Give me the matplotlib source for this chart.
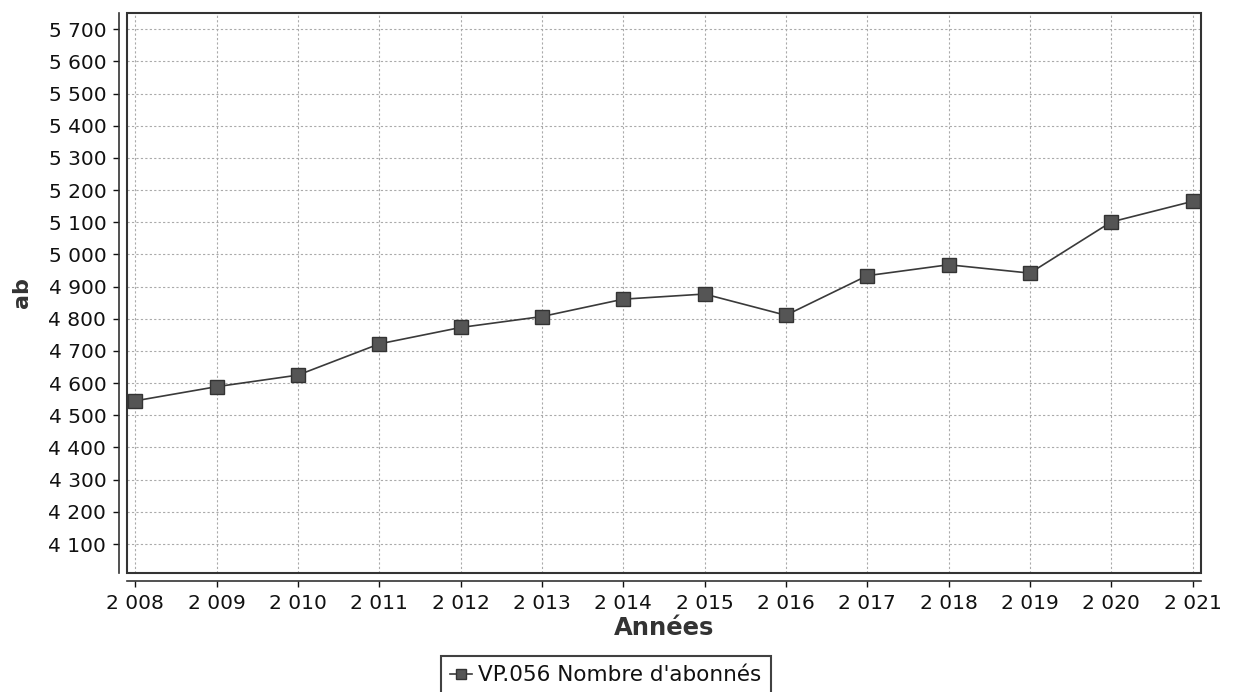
import matplotlib
matplotlib.use("Agg")
import matplotlib.pyplot as plt
from matplotlib.patches import Rectangle
from matplotlib.ticker import FuncFormatter

years = [2008, 2009, 2010, 2011, 2012, 2013, 2014, 2015, 2016, 2017, 2018, 2019, 2020, 2021]
abonnes = [4545, 4589, 4625, 4722, 4773, 4807, 4861, 4877, 4811, 4934, 4968, 4942, 5101, 5165]
y_ticks = [4100, 4200, 4300, 4400, 4500, 4600, 4700, 4800, 4900, 5000, 5100, 5200, 5300, 5400, 5500, 5600, 5700]
series_label = "VP.056 Nombre d'abonnés"

def fmt(v, pos=None):
    return "{:,}".format(int(round(v))).replace(",", " ")

fig = plt.figure(figsize=(12.34, 6.92), dpi=100)
ax = fig.add_axes([0.103, 0.172, 0.870, 0.809])

ax.plot(years, abonnes, color="#3a3a3a", linewidth=1.2, marker="s", markersize=9.5,
        markerfacecolor="#555555", markeredgecolor="#333333", markeredgewidth=1,
        label=series_label, zorder=3)

ax.set_xlim(2007.9, 2021.1)
ax.set_ylim(4010, 5750)
ax.set_xticks(years)
ax.set_yticks(y_ticks)
ax.xaxis.set_major_formatter(FuncFormatter(fmt))
ax.yaxis.set_major_formatter(FuncFormatter(fmt))
ax.tick_params(axis="both", labelsize=14.5, colors="#111111", length=4, width=1)
ax.tick_params(axis="x", pad=5)
ax.tick_params(axis="y", pad=5)

ax.grid(True, color="#aaaaaa", linestyle=(0, (2, 2)), linewidth=0.8)

for s in ["top", "right"]:
    ax.spines[s].set_visible(False)
for s in ["left", "bottom"]:
    ax.spines[s].set_position(("outward", 6))
    ax.spines[s].set_color("#333333")
    ax.spines[s].set_linewidth(1.2)

ax.add_patch(Rectangle((0, 0), 1, 1, transform=ax.transAxes, fill=False,
                       edgecolor="#333333", linewidth=1.5, zorder=4, clip_on=False))

ax.set_xlabel("Années", fontsize=17.5, fontweight="bold", color="#333333", labelpad=2)
ax.set_ylabel("ab", fontsize=16, fontweight="bold", color="#333333", labelpad=12)

leg = fig.legend(loc="center", bbox_to_anchor=(0.491, 0.024), fontsize=15.5,
                 frameon=True, fancybox=False, edgecolor="#111111",
                 handlelength=1.0, handletextpad=0.3, borderpad=0.45, borderaxespad=0,
                 markerscale=0.8)
leg.get_frame().set_linewidth(1.5)
for t in leg.get_texts():
    t.set_color("#111111")

fig.savefig("out.png", dpi=100, facecolor="white")
